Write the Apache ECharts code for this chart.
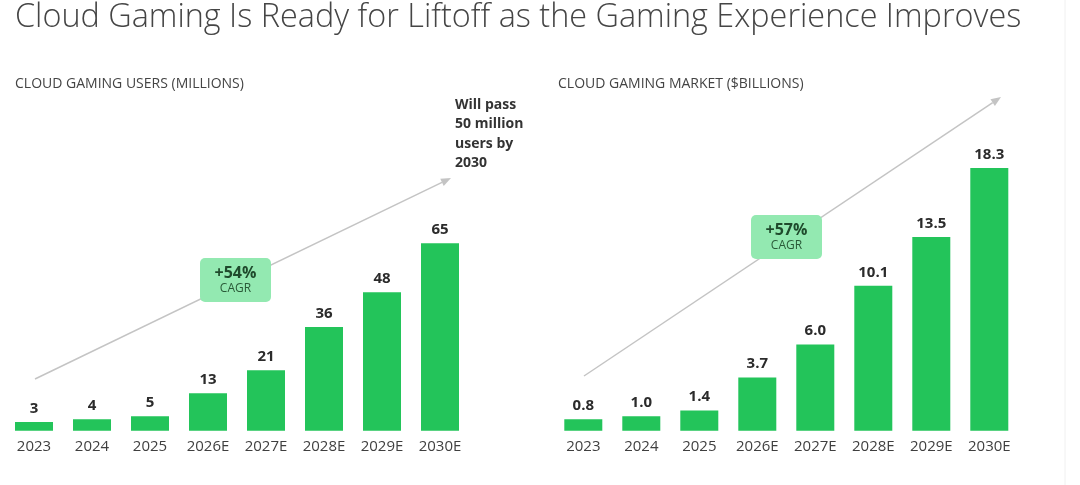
<!DOCTYPE html>
<html>
<head>
<meta charset="utf-8">
<script src="https://cdn.jsdelivr.net/npm/echarts@6/dist/echarts.min.js"></script>
<style>
  html, body { margin: 0; padding: 0; background: #fff; }
  #chart { width: 1080px; height: 485px; }
</style>
</head>
<body>
<div id="chart"></div>
<script>
// data ---------------------------------
var years = ['2023', '2024', '2025', '2026E', '2027E', '2028E', '2029E', '2030E'];
var users = [3, 4, 5, 13, 21, 36, 48, 65];          // millions
var market = [0.8, 1.0, 1.4, 3.7, 6.0, 10.1, 13.5, 18.3]; // $ billions
var marketLabels = ['0.8', '1.0', '1.4', '3.7', '6.0', '10.1', '13.5', '18.3'];

var FONT = '"Open Sans", "Noto Sans", sans-serif';
var BAR = '#23c45a';
var BOX = '#93e9b1';

var myChart = echarts.init(document.getElementById('chart'));

// arrow = line + small head
function arrow(x1, y1, x2, y2) {
  var a = Math.atan2(y2 - y1, x2 - x1), L = 10, W = 4;
  var bx = x2 - L * Math.cos(a), by = y2 - L * Math.sin(a);
  return [
    { type: 'line', z: 1, shape: { x1: x1, y1: y1, x2: bx, y2: by },
      style: { stroke: '#c4c4c4', lineWidth: 1.5 } },
    { type: 'polygon', z: 1, shape: { points: [[x2, y2],
        [bx + W * Math.sin(a), by - W * Math.cos(a)],
        [bx - W * Math.sin(a), by + W * Math.cos(a)]] },
      style: { fill: '#c4c4c4' } }
  ];
}

function cagrBox(x, y, pct) {
  return [
    { type: 'rect', z: 5, shape: { x: x, y: y, width: 71, height: 44, r: 5 }, style: { fill: BOX } },
    { type: 'text', z: 6, x: x + 35.5, y: y + 15,
      style: { text: pct, fill: '#1f4a2c', font: 'bold 16px ' + FONT, textAlign: 'center', textVerticalAlign: 'middle' } },
    { type: 'text', z: 6, x: x + 35.5, y: y + 31,
      style: { text: 'CAGR', fill: '#2a5a38', font: '12px ' + FONT, textAlign: 'center', textVerticalAlign: 'middle' } }
  ];
}

var graphics = [
  { type: 'text', left: 15, top: 2,
    style: { text: 'Cloud Gaming Is Ready for Liftoff as the Gaming Experience Improves',
      fill: '#454545', font: '300 32.4px ' + FONT } },
  { type: 'text', left: 15, top: 77,
    style: { text: 'CLOUD GAMING USERS (MILLIONS)', fill: '#444', font: '14px ' + FONT } },
  { type: 'text', left: 558, top: 77,
    style: { text: 'CLOUD GAMING MARKET ($BILLIONS)', fill: '#444', font: '14px ' + FONT } },
  { type: 'text', left: 455, top: 95,
    style: { text: 'Will pass\n50 million\nusers by\n2030', fill: '#333',
      font: 'bold 14px ' + FONT, lineHeight: 19.5 } },
  { type: 'line', shape: { x1: 1065, y1: 0, x2: 1065, y2: 485 },
    style: { stroke: '#f0f0f0', lineWidth: 1 } }
]
  .concat(arrow(35, 379, 451, 178))
  .concat(arrow(584, 376, 1001, 97))
  .concat(cagrBox(200, 258, '+54%'))
  .concat(cagrBox(751, 215, '+57%'));

var labelStyle = { show: true, position: 'top', distance: 6, color: '#2b2b2b',
  fontFamily: FONT, fontWeight: 'bold', fontSize: 15 };

var option = {
  animation: false,
  backgroundColor: '#fff',
  grid: [
    { left: 5, width: 464, top: 142.4, bottom: 485 - 430.7 },
    { left: 554.3, width: 464, top: 143.7, bottom: 485 - 430.7 }
  ],
  xAxis: [
    { gridIndex: 0, type: 'category', data: years,
      axisLine: { show: false }, axisTick: { show: false },
      axisLabel: { color: '#3f3f3f', fontSize: 15, fontFamily: FONT, margin: 9, interval: 0 } },
    { gridIndex: 1, type: 'category', data: years,
      axisLine: { show: false }, axisTick: { show: false },
      axisLabel: { color: '#3f3f3f', fontSize: 15, fontFamily: FONT, margin: 9, interval: 0 } }
  ],
  yAxis: [
    { gridIndex: 0, type: 'value', min: 0, max: 100, show: false, splitLine: { show: false } },
    { gridIndex: 1, type: 'value', min: 0, max: 20, show: false, splitLine: { show: false } }
  ],
  graphic: graphics,
  series: [
    { name: 'users', type: 'bar', xAxisIndex: 0, yAxisIndex: 0, barWidth: 38,
      itemStyle: { color: BAR }, label: labelStyle, data: users },
    { name: 'market', type: 'bar', xAxisIndex: 1, yAxisIndex: 1, barWidth: 38,
      itemStyle: { color: BAR },
      label: Object.assign({}, labelStyle, { formatter: function (p) { return marketLabels[p.dataIndex]; } }),
      data: market }
  ]
};
myChart.setOption(option);
</script>
</body>
</html>
